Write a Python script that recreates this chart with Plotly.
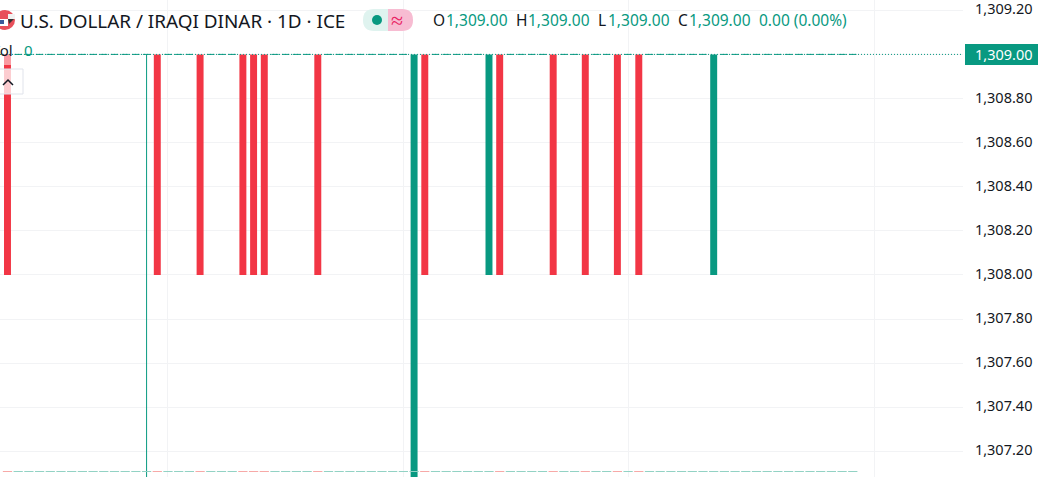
import plotly.graph_objects as go

# bars that moved, everything else is a flat day at 1309
bar_count = 80
red_days = [0, 14, 18, 22, 23, 24, 29, 39, 46, 51, 54, 57, 59]
green_days = [38, 45, 66]
long_green_day = 38
wick_day = 13

price_top = 1309.0
price_low = 1308.0
deep_low = 1307.0
last_close = 1309.0

grid_x = [15, 37, 58, 81]
price_ticks = [1307.2, 1307.4, 1307.6, 1307.8, 1308.0, 1308.2, 1308.4, 1308.6, 1308.8, 1309.0, 1309.2]
# 1,309.00 sits under the last price tag and the shifted 1,309.20 gets dropped by plotly,
# so those two are written as annotations
price_labels = ['1,307.20', '1,307.40', '1,307.60', '1,307.80', '1,308.00', '1,308.20',
                '1,308.40', '1,308.60', '1,308.80', '', '']
volume = [0] * bar_count

UP = '#089981'
DOWN = '#f23645'
W, H = 1042, 477
PLOT_W = 963


def px(x):
    return x / PLOT_W


def py(y):
    return 1 - y / H


days = list(range(bar_count))
moved = set(red_days) | set(green_days)
flat_days = [d for d in days if d not in moved]
up_days = [d for d in green_days if d != long_green_day]

fig = go.Figure()

fig.add_trace(go.Bar(x=red_days, y=[price_low - price_top] * len(red_days),
                     base=[price_top] * len(red_days), width=0.65, marker_color=DOWN, marker_line_width=0))
fig.add_trace(go.Bar(x=up_days, y=[price_top - price_low] * len(up_days),
                     base=[price_low] * len(up_days), width=0.65, marker_color=UP, marker_line_width=0))
fig.add_trace(go.Bar(x=[long_green_day], y=[price_top - deep_low], base=[deep_low],
                     width=0.65, marker_color=UP, marker_line_width=0))

# flat days show as a short dash
fig.add_trace(go.Scatter(x=flat_days, y=[price_top] * len(flat_days), mode='markers',
                         marker=dict(symbol='line-ew-open', size=5.2, color=UP, line=dict(width=1))))
fig.add_trace(go.Scatter(x=[wick_day, wick_day], y=[price_top, deep_low], mode='lines',
                         line=dict(color=UP, width=1)))

# zero volume row along the bottom
vol_colors = ['#f7a9a7' if d in red_days else '#92d2c4' for d in days]
fig.add_trace(go.Scatter(x=days, y=volume, yaxis='y2', mode='markers',
                         marker=dict(symbol='line-ew-open', size=6.6, color=vol_colors, line=dict(width=1))))

shapes = [
    # price line
    dict(type='line', xref='paper', x0=0, x1=1, yref='y', y0=last_close, y1=last_close,
         line=dict(color=UP, width=1, dash='1px,2px')),
    # legend fades over the first bar
    dict(type='rect', xref='paper', yref='paper', x0=px(0), x1=px(14), y0=py(65), y1=py(55),
         fillcolor='rgba(255,255,255,0.5)', line_width=0),
    dict(type='rect', xref='paper', yref='paper', x0=px(-5), x1=px(23), y0=py(94), y1=py(69),
         fillcolor='rgba(255,255,255,0.75)', line=dict(color='#e0e3eb', width=1)),
    dict(type='path', xref='paper', yref='paper',
         path=f'M {px(3)} {py(85)} L {px(8)} {py(80)} L {px(13)} {py(85)}',
         line=dict(color='#131722', width=1.5)),
    # flag
    dict(type='circle', xref='paper', yref='paper', x0=px(-5), x1=px(15), y0=py(30), y1=py(10),
         fillcolor='#e8505b', line_width=0),
    dict(type='rect', xref='paper', yref='paper', x0=px(0), x1=px(8), y0=py(26), y1=py(19),
         fillcolor='#ffffff', line_width=0),
    dict(type='rect', xref='paper', yref='paper', x0=px(0), x1=px(4), y0=py(24), y1=py(20),
         fillcolor='#3c5a9a', line_width=0),
    dict(type='rect', xref='paper', yref='paper', x0=px(8), x1=px(15), y0=py(19), y1=py(14),
         fillcolor='#f2f2f2', line_width=0),
    dict(type='path', xref='paper', yref='paper', fillcolor='#333333', line_width=0,
         path=f'M {px(8)} {py(19)} L {px(14)} {py(19)} L {px(9)} {py(24)} Z'),
    # status pill
    dict(type='path', xref='paper', yref='paper', fillcolor='#dff3ef', line_width=0,
         path=f'M {px(388)} {py(9)} L {px(374)} {py(9)} Q {px(363)} {py(9)} {px(363)} {py(20)} '
              f'Q {px(363)} {py(31)} {px(374)} {py(31)} L {px(388)} {py(31)} Z'),
    dict(type='path', xref='paper', yref='paper', fillcolor='#f7bcd2', line_width=0,
         path=f'M {px(388)} {py(9)} L {px(402)} {py(9)} Q {px(413)} {py(9)} {px(413)} {py(20)} '
              f'Q {px(413)} {py(31)} {px(402)} {py(31)} L {px(388)} {py(31)} Z'),
    dict(type='circle', xref='paper', yref='paper', x0=px(372), x1=px(382), y0=py(25), y1=py(15),
         fillcolor=UP, line_width=0),
    # last price tag
    dict(type='rect', xref='paper', yref='paper', x0=px(965), x1=px(1038), y0=py(65), y1=py(44),
         fillcolor=UP, line_width=0),
]

FONT = 'Noto Sans'


def label(text, x, y, color='#131722', size=15.5, anchor='left'):
    return dict(text=text, xref='paper', yref='paper', x=px(x), y=py(y), showarrow=False,
                xanchor=anchor, yanchor='middle', borderpad=0, borderwidth=0,
                font=dict(family=FONT, size=size, color=color))


annotations = [
    label('U.S. DOLLAR / IRAQI DINAR · 1D · ICE', 20, 21, size=18.9),
    label('≈', 397, 19, color='#e91e63', size=22, anchor='center'),
    label('O', 433, 20), label('1,309.00', 446, 20, color=UP),
    label('H', 516, 20), label('1,309.00', 528, 20, color=UP),
    label('L', 598, 20), label('1,309.00', 608, 20, color=UP),
    label('C', 678, 20), label('1,309.00', 689, 20, color=UP),
    label('0.00 (0.00%)', 759, 20, color=UP),
    label('Vol', 13, 50, anchor='right', size=15), label('0', 24, 50, color=UP, size=15),
    label('1,309.20', 1003.5, 8, size=14.5, anchor='center'),
    label('1,309.00', 1003.5, 54, color='#ffffff', size=14.5, anchor='center'),
]

fig.update_layout(
    width=W, height=H, margin=dict(l=0, r=W - PLOT_W, t=0, b=0),
    paper_bgcolor='white', plot_bgcolor='white', showlegend=False, barmode='overlay',
    font=dict(family=FONT, size=14.5, color='#131722'),
    xaxis=dict(range=[-0.70, 89.3], tickvals=grid_x, showticklabels=False, ticks='',
               showgrid=True, gridcolor='#f2f3f5', zeroline=False),
    yaxis=dict(range=[1307.0835, 1309.2467], side='right', tickvals=price_ticks, ticktext=price_labels,
               gridcolor='#f2f3f5', zeroline=False, ticks='outside', ticklen=8, tickcolor='rgba(0,0,0,0)',
               ticklabelshift=-1),
    yaxis2=dict(range=[-5.5, 471.5], overlaying='y', visible=False),
    shapes=shapes, annotations=annotations,
)

fig.write_html("out.html", config={'displayModeBar': False},
               post_script="document.body.style.margin='0';document.body.style.overflow='hidden';")
